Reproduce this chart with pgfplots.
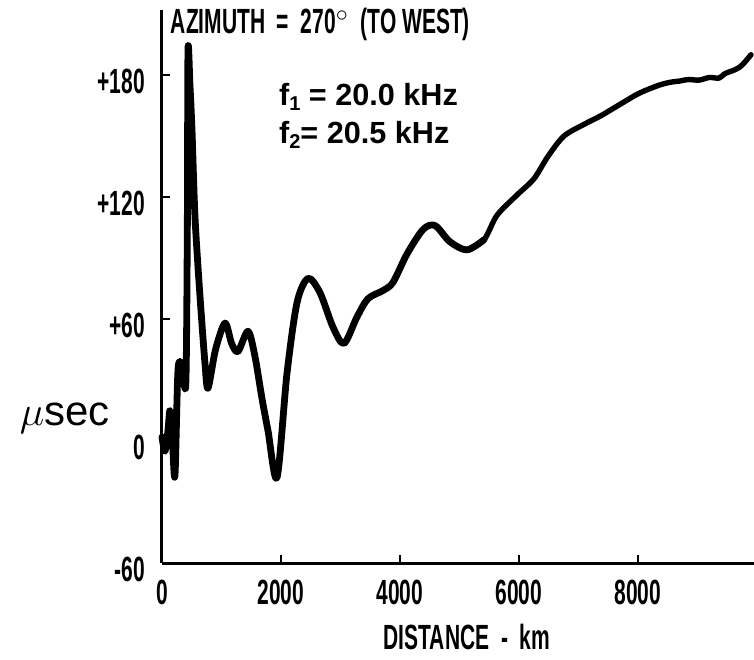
\documentclass[border=0pt]{standalone}
\usepackage{pgfplots}
\pgfplotsset{compat=1.18}
\usepackage{fontspec}
\setmainfont{Liberation Sans}
\newfontfamily\cond[FakeStretch=0.6]{Liberation Sans}
\begin{document}
\begin{tikzpicture}
\useasboundingbox (0,0) rectangle (377pt,329.5pt);
\begin{axis}[
 at={(81pt,48pt)}, anchor=south west, scale only axis,
 width=296pt, height=276.5pt,
 xmin=0, xmax=9950, ymin=-60, ymax=212,
 axis lines=left, axis line style={line width=1.5pt, -},
 xtick={0,2000,4000,6000,8000}, xticklabels={0,2000,4000,6000,8000},
 ytick={-60,0,60,120,180}, yticklabels={-60,0,+60,+120,+180},
 tick align=inside, major tick length=4pt, tick style={line width=0.8pt, black},
 tick label style={font=\cond\bfseries\fontsize{17.5}{17.5}\selectfont},
 xticklabel style={yshift=-5pt},
 yticklabel style={xshift=-5pt, yshift=-3pt},
 clip=false,
]
\addplot[black, line width=3.4pt, smooth, tension=0.5, line join=round, line cap=round] coordinates {
(0,2) (50,-5) (100,5) (134,15) (175,0) (218,-17) (269,35) (336,37) (400,28) (425,100) (437,192)
(470,175) (504,153) (555,110) (639,71) (723,38) (773,26) (900,45) (1059,58) (1170,48) (1277,44)
(1445,54) (1560,42) (1680,21) (1782,5) (1933,-18) (2100,33) (2269,68) (2454,80) (2655,73)
(2874,56) (3059,48) (3277,61) (3462,70) (3714,74) (3882,78) (4118,92) (4387,104) (4588,106)
(4840,98) (5126,94) (5412,99)
};
\addplot[black, line width=2.7pt, smooth, tension=0.5, line join=round, line cap=round] coordinates {
(5126,94) (5412,99) (5630,111) (5966,121) (6252,129) (6487,140) (6756,150) (7109,156)
(7378,160) (7664,165) (8017,171) (8353,175) (8550,176.5) (8689,177) (8850,177.8) (9025,177.5)
(9200,178.8) (9361,178.5) (9450,180.5) (9529,181.5) (9620,182.5) (9714,184) (9800,186.5) (9899,190)
};
\node[anchor=west, font=\cond\bfseries\fontsize{17.5}{17.5}\selectfont] at (axis description cs:0.003,0.973) {AZIMUTH \,=\, 270$^\circ$ \,(TO WEST)};
\node[anchor=west, font=\bfseries\fontsize{15.3}{18}\selectfont] at (axis description cs:0.186,0.843) {f\raisebox{-0.35ex}{\fontsize{10}{10}\selectfont 1} = 20.0 kHz};
\node[anchor=west, font=\bfseries\fontsize{15.3}{18}\selectfont] at (axis description cs:0.186,0.774) {f\raisebox{-0.35ex}{\fontsize{10}{10}\selectfont 2}= 20.5 kHz};
\node[anchor=west, font=\fontsize{21}{24}\selectfont] at (axis description cs:-0.252,0.262) {$\mu$sec};
\node[font=\cond\bfseries\fontsize{17.5}{17.5}\selectfont] at (axis description cs:0.515,-0.134) {DISTANCE \,-\, km};
\end{axis}
\end{tikzpicture}
\end{document}
